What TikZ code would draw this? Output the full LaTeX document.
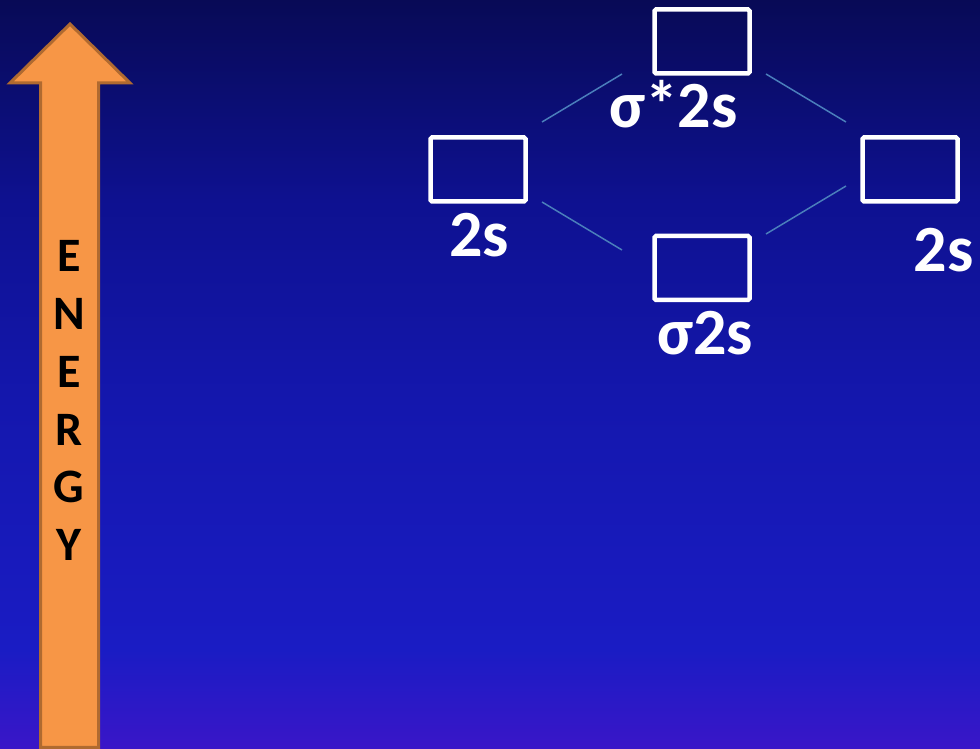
\documentclass[tikz,border=0pt]{standalone}
\usepackage{fontspec}
\setmainfont{Carlito}
\definecolor{bgA}{HTML}{3A16C8}
\definecolor{bgB}{HTML}{1A1CC4}
\definecolor{bgC}{HTML}{1417AD}
\definecolor{bgD}{HTML}{0E1190}
\definecolor{bgE}{HTML}{080A56}
\definecolor{arrfill}{HTML}{F79646}
\definecolor{arrline}{HTML}{B06A30}
\definecolor{connline}{HTML}{4A7EBB}
\begin{document}
\begin{tikzpicture}[x=1pt,y=1pt,
  orb/.style={draw=white,line width=4.5pt,rounded corners=1.5pt,minimum width=95pt,minimum height=64pt,inner sep=0pt},
  lbl/.style={text=white,font=\fontsize{66}{78}\selectfont\bfseries,anchor=base,inner sep=0pt},
  energy/.style={text=black,font=\fontsize{48}{57}\selectfont\bfseries,anchor=base,inner sep=0pt},
  conn/.style={draw=connline,line width=1.5pt}]
\useasboundingbox (0,0) rectangle (980,749);
% background
\shade[bottom color=bgA,top color=bgB] (0,0) rectangle (980,99.5);
\shade[bottom color=bgB,top color=bgC] (0,99) rectangle (980,349.5);
\shade[bottom color=bgC,top color=bgD] (0,349) rectangle (980,549.5);
\shade[bottom color=bgD,top color=bgE] (0,549) rectangle (980,749);
% energy arrow
\draw[fill=arrfill,draw=arrline,line width=3pt,line join=miter]
  (40.5,1.5) -- (40.5,666) -- (10,666) -- (70,725) -- (130,666) -- (98.5,666) -- (98.5,1.5) -- cycle;
\foreach \l [count=\i] in {E,N,E,R,G,Y}
  \node[energy] (en\i) at (69,{749-272-57.7*(\i-1)}) {\l};
% orbitals
\node[orb] (sstar) at (702,707.5) {};
\node[orb] (left) at (478,579.5) {};
\node[orb] (right) at (910,579.5) {};
\node[orb] (sigma) at (702,481) {};
% labels
\node[lbl] (lsstar) at (673.5,621) {σ*2s};
\node[lbl] (lleft) at (479,492.3) {2s};
\node[lbl] (lright) at (943.5,477.3) {2s};
\node[lbl] (lsigma) at (705,394) {σ2s};
% connectors
\coordinate (c1a) at (542,627);
\coordinate (c1b) at (622,675);
\coordinate (c2a) at (766,675);
\coordinate (c2b) at (846,627);
\coordinate (c3a) at (542,547);
\coordinate (c3b) at (622,499);
\coordinate (c4a) at (766,515);
\coordinate (c4b) at (846,563);
\draw[conn] (c1a) -- (c1b);
\draw[conn] (c2a) -- (c2b);
\draw[conn] (c3a) -- (c3b);
\draw[conn] (c4a) -- (c4b);
\end{tikzpicture}
\end{document}
